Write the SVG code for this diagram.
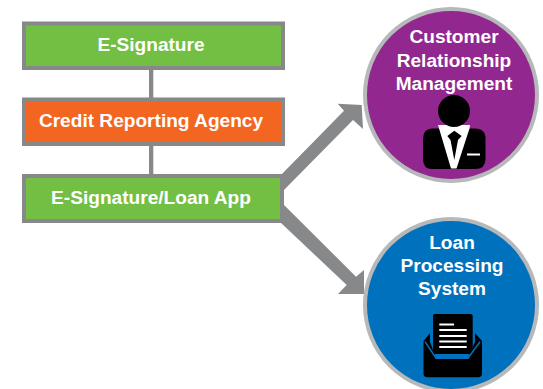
<svg xmlns="http://www.w3.org/2000/svg" width="543" height="389" viewBox="0 0 543 389">
<style>
text{font-family:"Liberation Sans",Arial,sans-serif;font-weight:700;fill:#fff;text-anchor:middle;font-size:19.100px}
.box{stroke:#87888a;stroke-width:4}
.circ{stroke:#b7b8ba;stroke-width:4}
.conn{fill:#87888a;stroke:none}
</style>
<rect width="543" height="389" fill="#fff"/>
<g id="connectors">
<rect class="conn" x="149" y="68" width="4.300" height="32"/>
<rect class="conn" x="149" y="144" width="4.300" height="32"/>
<polygon class="conn" points="280,176 344,110.700 337.700,103.700 361.700,105 363,129 353,120 284,190"/>
<polygon class="conn" points="284,205 356,276.700 364,270 364,294 338,294 346.700,285 280,222"/>
</g>
<g id="e-signature">
<rect class="box" x="24" y="23.500" width="259" height="44.500" fill="#72bf44"/>
<text x="151" y="51">E-Signature</text>
</g>
<g id="credit-reporting-agency">
<rect class="box" x="24" y="99.500" width="259" height="44.500" fill="#f36621"/>
<text x="151" y="127">Credit Reporting Agency</text>
</g>
<g id="e-signature-loan-app">
<rect class="box" x="24" y="176" width="258" height="45" fill="#72bf44"/>
<text x="151" y="204">E-Signature/Loan App</text>
</g>
<g id="customer-relationship-management">
<circle class="circ" cx="451" cy="95" r="86" fill="#92278f"/>
<text x="454" y="42.500">Customer</text>
<text x="454" y="67">Relationship</text>
<text x="454" y="90">Management</text>
<path d="M432 128.500H475Q485.500 128.500 485.500 139V159Q485.500 169 475 169H432Q423 169 423 159V139Q423 128.500 432 128.500Z" fill="#000"/>
<polygon points="438,125 470,125 469.500,128.500 456.500,168.500 451,168.500" fill="#fff"/>
<circle cx="454" cy="111" r="16" fill="#000"/>
<polygon points="454.300,130.700 461.700,136 458,140 454.300,160 450.500,140 447.300,136" fill="#000"/>
<rect x="467" y="153.500" width="13" height="2" fill="#fff"/>
</g>
<g id="loan-processing-system">
<circle class="circ" cx="451" cy="305" r="86" fill="#0071bc"/>
<text x="452" y="249">Loan</text>
<text x="452" y="272">Processing</text>
<text x="452" y="295">System</text>
<path d="M423.500 341L430 333V342L436 358H468L475 342V333L482 341V373.500Q482 377.300 478 377.300H427.500Q423.500 377.300 423.500 373.500Z" fill="#000"/>
<path d="M433 316Q433 314 435 314H470.500Q472.700 314 472.700 316V354H433Z" fill="#000"/>
<path d="M425 341.700L436 358.200H468L480 341.700" fill="none" stroke="#0071bc" stroke-width="1.500"/>
<path d="M439.300 323.500H454V325.500H439.300ZM439.300 329H466.700V331H439.300ZM439.300 335H466.700V337H439.300ZM439.300 340.500H466.700V342.500H439.300ZM439.300 346H466.700V348H439.300Z" fill="#fff"/>
</g>
</svg>
